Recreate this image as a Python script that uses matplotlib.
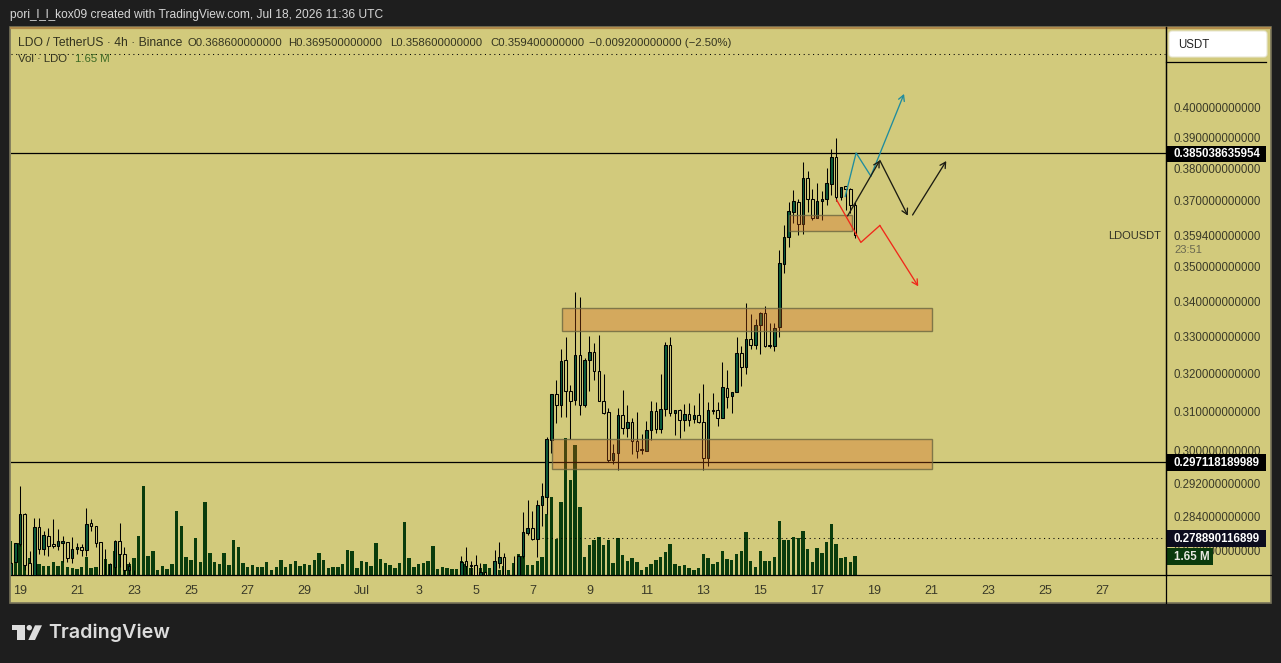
import numpy as np
import matplotlib
matplotlib.use("Agg")
import matplotlib.pyplot as plt
from matplotlib.patches import Rectangle, Polygon, Circle, FancyBboxPatch

plt.rcParams['font.family'] = ['Liberation Sans', 'DejaVu Sans']

# 4h bars, counted from Jun 19 00:00
candle_bars = list(range(-2, 25)) + list(range(93, 99)) + [100, 101, 102] + list(range(104, 177))

candle_open = [
    .2695, .2734, .2775, .2846, .2731, .2695, .2814, .2763, .2794, .2774, .2771, .2778, .2779, .2742,
    .2762, .2768, .2760, .2824, .2817, .2779, .2695, .2695, .2722, .2781, .2751, .2714, .2695,
    .2703, .2735, .2726, .2726, .2695, .2710, .2695, .2732, .2745,
    .2685, .2698, .2746, .2801, .2812, .2787, .2866, .2887, .3026, .3146, .3117, .3236, .3154, .3130,
    .3250, .3117, .3236, .3258, .3207, .3127, .3098, .2978, .2995, .3091, .3059, .3073, .3025, .3005,
    .3000, .3052, .3101, .3056, .3106, .3277, .3096, .3103, .3078, .3093, .3080, .3091, .3073, .2981,
    .3103, .3103, .3083, .3161, .3140, .3151, .3255, .3217, .3294, .3277, .3333, .3366, .3277, .3275,
    .3327, .3508, .3589, .3665, .3694, .3627, .3769, .3703, .3645, .3697, .3703, .3750, .3836, .3710,
    .3744, .3735, .3686]
candle_high = [
    .2734, .2777, .2913, .2847, .2759, .2835, .2835, .2804, .2812, .2833, .2810, .2794, .2779, .2792,
    .2777, .2774, .2860, .2833, .2817, .2779, .2763, .2731, .2783, .2824, .2768, .2733, .2715,
    .2746, .2768, .2735, .2750, .2731, .2711, .2761, .2779, .2754,
    .2748, .2750, .2850, .2879, .2853, .2879, .2920, .3036, .3146, .3183, .3267, .3299, .3169, .3426,
    .3412, .3243, .3303, .3283, .3305, .3199, .3109, .3017, .3109, .3156, .3117, .3083, .3098, .3042,
    .3076, .3127, .3125, .3199, .3286, .3299, .3103, .3106, .3119, .3122, .3117, .3149, .3173, .3125,
    .3149, .3125, .3231, .3210, .3151, .3299, .3275, .3394, .3364, .3350, .3369, .3386, .3338, .3338,
    .3550, .3625, .3694, .3733, .3703, .3821, .3791, .3736, .3755, .3729, .3801, .3862, .3897, .3742,
    .3746, .3737, .3695]
candle_low = [
    .2690, .2734, .2771, .2715, .2695, .2690, .2752, .2750, .2748, .2765, .2761, .2734, .2733, .2732,
    .2752, .2748, .2746, .2804, .2768, .2690, .2680, .2690, .2695, .2722, .2704, .2698, .2690,
    .2698, .2705, .2700, .2695, .2690, .2690, .2690, .2720, .2695,
    .2680, .2695, .2742, .2796, .2784, .2744, .2816, .2845, .2994, .3070, .3085, .3085, .3029, .3117,
    .3090, .3113, .3155, .3182, .3127, .3093, .2973, .2967, .2951, .3043, .3036, .2993, .2981, .2991,
    .3000, .3028, .3046, .3046, .3089, .3089, .3040, .3033, .3049, .3062, .3070, .3070, .2951, .2961,
    .3095, .3064, .3083, .3110, .3097, .3151, .3167, .3200, .3268, .3268, .3253, .3272, .3271, .3261,
    .3301, .3482, .3557, .3630, .3594, .3597, .3665, .3639, .3645, .3639, .3685, .3717, .3699, .3701,
    .3671, .3661, .3586]
candle_close = [
    .2732, .2777, .2846, .2727, .2695, .2814, .2763, .2796, .2771, .2769, .2782, .2782, .2743, .2763,
    .2768, .2760, .2821, .2818, .2778, .2695, .2690, .2729, .2781, .2751, .2715, .2724, .2692,
    .2733, .2723, .2725, .2698, .2710, .2695, .2735, .2745, .2698,
    .2698, .2747, .2802, .2812, .2787, .2867, .2888, .3029, .3146, .3117, .3234, .3154, .3127, .3250,
    .3117, .3236, .3258, .3207, .3127, .3096, .2978, .2994, .3091, .3059, .3073, .3025, .3000, .3003,
    .3052, .3101, .3055, .3106, .3277, .3096, .3103, .3078, .3093, .3078, .3091, .3073, .2981, .3103,
    .3102, .3083, .3164, .3138, .3151, .3255, .3217, .3295, .3277, .3333, .3366, .3274, .3276, .3325,
    .3510, .3587, .3668, .3698, .3627, .3769, .3703, .3645, .3697, .3703, .3754, .3836, .3710, .3741,
    .3735, .3685, .3594]

# volume in millions, one value per bar from -2 to 176
volume_m = [
    2.93, 1.45, 2.74, 1.37, 1.45, 1.03, .97, .80, .80, 1.14, .80, 1.22, .71, .62, .54, .71, 1.56, .62, .71, 1.39,
    1.39, .97, 2.05, 2.16, 1.39, .94, 1.48, 3.36, 7.64, 1.65, 2.08, .45, .80, .54, .97, 5.50, 4.22, 1.56, 1.31, 3.19,
    1.14, 6.27, 1.91, 1.14, .97, 1.91, .88, 3.02, 2.42, 1.05, .71, .88, .71, .71, 1.14, .45, .71, 1.31, .71, .97,
    1.22, .80, .97, .88, 1.31, 1.91, 1.31, .62, .71, .71, .97, 2.16, 2.08, .62, 1.22, 1.14, .80, 2.76, 1.39, 1.05,
    .88, .62, 1.05, 4.56, 1.48, .71, .97, 1.05, 1.22, 2.51, .54, .71, .62, .54, .54, 1.22, .97, .62, .68, .62,
    .97, .62, 1.22, .45, .77, .45, 1.05, 1.82, 1.65, .88, .88, 1.22, 1.56, 5.24, 6.69, 3.10, 6.27, 11.74, 8.15, 11.14,
    5.84, 1.56, 2.59, 3.02, 3.27, 2.59, 3.02, 1.05, 3.14, 1.74, 1.22, 1.48, 1.14, .45, .71, .97, 1.31, 1.56, 1.99, 2.68,
    .97, .80, .88, .62, .45, .62, 1.82, 1.48, .97, 1.14, 2.08, 1.39, 1.31, 1.82, 2.08, 3.70, 1.22, .71, 2.08, 1.22,
    1.22, 1.56, 4.64, 3.02, 3.02, 3.27, 3.19, 3.79, 2.25, 1.14, 2.33, 1.91, 2.85, 4.39, 2.68, 1.48, 1.56, 1.14, 1.65]
volume_bars = np.arange(-2, 177)

date_bars = np.arange(0, 229, 12)
date_labels = ['19', '21', '23', '25', '27', '29', 'Jul', '3', '5', '7', '9', '11', '13', '15', '17', '19',
               '21', '23', '25', '27']

price_ticks = [.40, .39, .38, .37, .3594, .35, .34, .33, .32, .31, .30, .292, .284, .276]

line_high = 0.385038635954
line_low = 0.297118189989
vol_ma = 0.278890116899

# supply / demand boxes: first bar, last bar, top, bottom
zone_start = [114.2, 112.1, 162.1]
zone_end = [192.2, 192.2, 175.3]
zone_top = [.3380, .3030, .3656]
zone_bottom = [.3316, .2954, .3607]

# drawn scenarios
teal_bars = [173.9, 176.2, 179.3, 186.3]
teal_price = [.3712, .3850, .3776, .4045]
red_bars = [172.1, 177.2, 181.2, 189.3]
red_price = [.3701, .3572, .3623, .3443]
black_a_bars = [174.4, 181.2]
black_a_price = [.3652, .3826]
black_b_bars = [181.2, 187.1]
black_b_price = [.3826, .3653]
black_c_bars = [188.1, 195.2]
black_c_price = [.3655, .3824]

W, H = 1281, 663
DARK = '#1e1e1e'
PANEL = '#d2ca7c'
TICK = '#3a3a28'
UP = '#0b5a3c'
VOL = '#0a3c0c'
LEGEND = '#33331f'

fig = plt.figure(figsize=(W / 100, H / 100), dpi=100, facecolor=DARK)

# full figure axes in pixels for the frame around the chart
chrome = fig.add_axes([0, 0, 1, 1], zorder=0)
chrome.set_xlim(0, W)
chrome.set_ylim(H, 0)
chrome.axis('off')
chrome.add_patch(Rectangle((10, 27), 1261, 576, fc=PANEL, ec='#77735a', lw=1.2))
chrome.plot([10, 1271], [27.5, 27.5], color='#b08a4a', lw=1.6, solid_capstyle='butt')

rect = [11 / W, 1 - 575 / H, 1154.5 / W, 548 / H]

# volume sits under the candles
ax_vol = fig.add_axes(rect, zorder=1)
ax_vol.patch.set_visible(False)
ax_vol.bar(volume_bars, volume_m, width=0.72, color=VOL, lw=0)
ax_vol.set_xlim(-1.9, 241.4)
ax_vol.set_ylim(0, 46.85)
ax_vol.set_xticks([])
ax_vol.set_yticks([])
for s in ax_vol.spines.values():
    s.set_visible(False)

ax = fig.add_axes(rect, zorder=2)
ax.patch.set_visible(False)
ax.set_yscale('log')
ax.set_xlim(-1.9, 241.4)
ax.set_ylim(0.27036, 0.42782)

# price lines go under the boxes, they show through
ax.axhline(line_high, color='black', lw=0.9, zorder=1)
ax.axhline(line_low, color='black', lw=0.9, zorder=1)
ax.hlines(vol_ma, 110, 241.4, color='black', lw=0.75, linestyles=(0, (1, 3.5)), zorder=1)

bars = np.array(candle_bars)
o = np.array(candle_open)
c = np.array(candle_close)
bottoms = np.minimum(o, c)
heights = np.abs(c - o)
colors = [UP if cl > op else PANEL for op, cl in zip(o, c)]
ax.vlines(bars, candle_low, candle_high, color='black', lw=0.75, zorder=2)
ax.bar(bars, heights, bottom=bottoms, width=0.54, color=colors, edgecolor='black', lw=0.75, zorder=3)

for x0, x1, top_p, bot_p in zip(zone_start, zone_end, zone_top, zone_bottom):
    ax.add_patch(Rectangle((x0, bot_p), x1 - x0, top_p - bot_p, fc=(217 / 255, 95 / 255, 24 / 255, 0.3),
                           ec=(0.42, 0.40, 0.25, 0.8), lw=1, zorder=4))

def arrow_line(xs, ys, color):
    ax.plot(xs[:-1], ys[:-1], color=color, lw=0.95, zorder=5)
    ax.annotate('', xy=(xs[-1], ys[-1]), xytext=(xs[-2], ys[-2]), zorder=5,
                arrowprops=dict(arrowstyle='->,head_length=0.4,head_width=0.22', color=color, lw=0.95,
                                shrinkA=0, shrinkB=0))

arrow_line(teal_bars, teal_price, '#1f8c9e')
arrow_line(red_bars, red_price, '#f0281a')
arrow_line(black_a_bars, black_a_price, '#1c1c12')
arrow_line(black_b_bars, black_b_price, '#1c1c12')
arrow_line(black_c_bars, black_c_price, '#1c1c12')

ax.set_xticks(date_bars)
ax.set_xticklabels(date_labels)
ax.yaxis.tick_right()
ax.set_yticks(price_ticks)
ax.set_yticklabels(['%.12f' % p for p in price_ticks])
ax.minorticks_off()
ax.tick_params(axis='x', length=0, pad=7.5, labelsize=9, labelcolor=TICK)
ax.tick_params(axis='y', length=0, pad=6, labelsize=8.3, labelcolor=TICK)
for name, s in ax.spines.items():
    s.set_visible(name in ('bottom', 'right'))
    s.set_linewidth(0.9)
    s.set_color('black')

# everything above the candles and the tick labels
top = fig.add_axes([0, 0, 1, 1], zorder=3)
top.patch.set_visible(False)
top.set_xlim(0, W)
top.set_ylim(H, 0)
top.axis('off')

top.plot([1165.5, 1165.5], [27, 603], color='black', lw=0.9)
top.plot([1165.5, 1271], [575, 575], color='black', lw=0.9)
top.plot([1165.5, 1266], [61.5, 61.5], color='black', lw=0.9)
top.plot([11, 1165], [53.5, 53.5], color='black', lw=0.75, ls=(0, (1, 3.5)))

top.add_patch(FancyBboxPatch((1171, 33), 94, 22, boxstyle='round,pad=2,rounding_size=3', fc='white',
                             ec='#e8e6d0', lw=0.8))
top.text(1178, 44.5, 'USDT', fontsize=8.3, color='#222222', va='center')

boxes = [(146, 16, '#000000', '%.12f' % line_high),
         (454, 17, '#000000', '%.12f' % line_low),
         (530, 17, '#0c0c1e', '%.12f' % vol_ma)]
for y, h, col, txt in boxes:
    top.add_patch(Rectangle((1166, y), 100, h, fc=col, lw=0))
    top.text(1174, y + h / 2, txt, fontsize=8.3, color='white', va='center', fontweight='bold')
top.add_patch(Rectangle((1166, 548), 47, 17, fc='#0a3a0c', lw=0))
top.text(1174, 556.5, '1.65 M', fontsize=8.3, color='#e8e8e0', va='center', fontweight='bold')

top.text(1161, 236, 'LDOUSDT', fontsize=8, color='#333326', va='center', ha='right')
top.text(1174, 250, '23:51', fontsize=8, color='#6a6850', va='center')

top.text(10, 15, 'pori_l_l_kox09 created with TradingView.com, Jul 18, 2026 11:36 UTC', fontsize=8.65,
         color='#d6d6d6', va='center')

top.text(18, 42.5, 'LDO / TetherUS \u00b7 4h \u00b7 Binance', fontsize=8.7, color=LEGEND, va='center')
top.text(187, 42.5, 'O0.368600000000', fontsize=8.2, color=LEGEND, va='center')
top.text(288, 42.5, 'H0.369500000000', fontsize=8.2, color=LEGEND, va='center')
top.text(390, 42.5, 'L0.358600000000', fontsize=8.2, color=LEGEND, va='center')
top.text(490, 42.5, 'C0.359400000000', fontsize=8.2, color=LEGEND, va='center')
top.text(589, 42.5, '\u22120.009200000000 (\u22122.50%)', fontsize=8.2, color=LEGEND, va='center')
top.text(18, 59, 'Vol \u00b7 LDO', fontsize=8.2, color=LEGEND, va='center')
top.text(75, 59, '1.65 M', fontsize=8.2, color='#3d6a24', va='center')

# logo and wordmark in the footer
logo = '#dcdcdc'
top.add_patch(Polygon([(12, 625.3), (25.3, 625.3), (25.3, 640), (17.3, 640), (17.3, 630), (12, 630)], fc=logo, lw=0))
top.add_patch(Circle((29.3, 627.7), 2.7, fc=logo, lw=0))
top.add_patch(Polygon([(42, 625.3), (35, 625.3), (28.3, 640), (35, 640)], fc=logo, lw=0))
top.text(48, 633, 'TradingView', fontsize=14.2, family='Inter', fontweight='semibold', color=logo, va='center')

fig.savefig('out.png', dpi=100, facecolor=DARK)
